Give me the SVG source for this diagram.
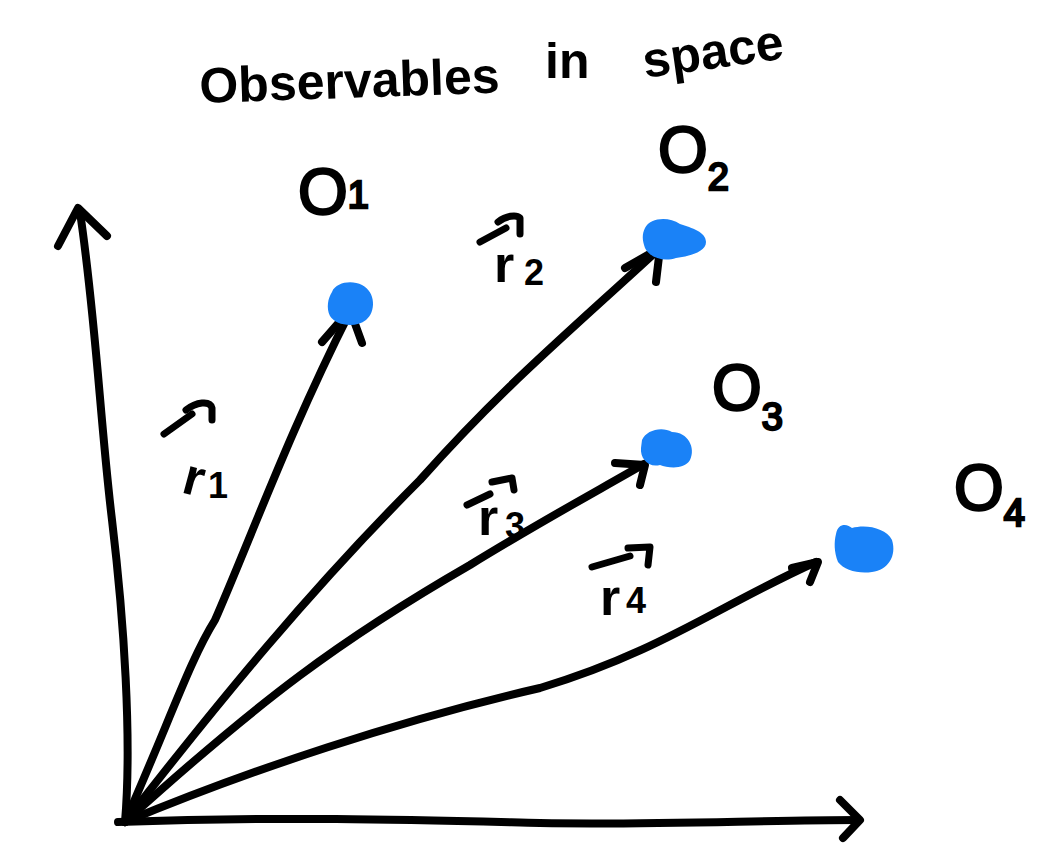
<svg xmlns="http://www.w3.org/2000/svg" width="1051" height="845" viewBox="0 0 1051 845">
<style>
.ink{fill:none;stroke:#000;stroke-width:8;stroke-linecap:round;stroke-linejoin:round}
.thin{fill:none;stroke:#000;stroke-width:7;stroke-linecap:round;stroke-linejoin:round}
.dot{fill:#1a82f7}
.lbl{font-family:"Liberation Sans",Arial,sans-serif;fill:#000;stroke:#000;stroke-width:2.5}
.title{font-family:"Liberation Sans",Arial,sans-serif;font-size:50px;font-weight:bold;fill:#000}
.big{font-size:64px}
.sub{font-size:38px}
.r{font-family:"Liberation Sans",Arial,sans-serif;font-size:52px;font-weight:bold;fill:#000}
.rs{font-family:"Liberation Sans",Arial,sans-serif;font-size:36px;font-weight:bold;fill:#000}
</style>
<rect width="1051" height="845" fill="#fff"/>
<g id="title">
<text class="title" x="200" y="103" transform="rotate(-2 200 103)">Observables</text>
<text class="title" x="545" y="78">in</text>
<text class="title" x="645" y="78" transform="rotate(-8 645 78)">space</text>
</g>
<g id="axes">
<path class="ink" d="M125,822 C132,740 124,620 112,520 C100,420 96,320 80,212"/>
<path class="ink" d="M58,246 L78,208 L107,236"/>
<path class="ink" d="M118,822 C300,816 420,820 540,823 C660,825 760,820 858,820"/>
<path class="ink" d="M840,800 L860,820 L843,838"/>
</g>
<g id="connectors">
<path class="ink" d="M125,822 C170,720 190,660 215,620 C250,540 290,430 350,312"/>
<path class="ink" d="M322,342 L350,310 L362,343"/>
<path class="ink" d="M125,822 C220,700 310,590 420,480 C500,390 560,340 658,250"/>
<path class="ink" d="M625,268 L660,248 L656,282"/>
<path class="ink" d="M125,822 C260,700 340,640 470,565 C540,522 590,495 644,464"/>
<path class="ink" d="M615,463 L645,465 L640,485"/>
<path class="ink" d="M125,822 C250,770 400,720 540,688 C660,652 720,605 816,562"/>
<path class="ink" d="M792,568 L818,562 L810,582"/>
</g>
<g id="vector-labels">
<g id="r1">
<path class="thin" d="M164,434 L192,414"/>
<path class="thin" d="M186,410 C196,402 210,400 212,408 L212,420"/>
<text class="r" x="180" y="492" transform="rotate(15 180 492)">r</text>
<text class="rs" x="208" y="498">1</text>
</g>
<g id="r2">
<path class="thin" d="M480,242 L506,228"/>
<path class="thin" d="M498,222 C506,216 516,214 520,218 L520,234"/>
<text class="r" x="494" y="282">r</text>
<text class="rs" x="524" y="285">2</text>
</g>
<g id="r3">
<path class="thin" d="M467,505 L490,494"/>
<path class="thin" d="M492,482 L512,478 L514,490"/>
<text class="r" x="478" y="535">r</text>
<text class="rs" x="505" y="538">3</text>
</g>
<g id="r4">
<path class="thin" d="M592,567 L630,556"/>
<path class="thin" d="M628,548 L650,547 L648,565"/>
<text class="r" x="600" y="615">r</text>
<text class="rs" x="626" y="613">4</text>
</g>
</g>
<g id="O1">
<path class="dot" d="M332,292 C336,282 352,280 362,285 C376,292 376,312 366,320 C356,328 336,326 330,316 C326,308 328,298 332,292Z"/>
<text class="lbl big" x="298" y="214">O<tspan class="sub" dy="-6">1</tspan></text>
</g>
<g id="O2">
<path class="dot" d="M645,228 C650,218 668,216 680,224 C692,228 706,232 706,242 C706,252 690,256 676,258 C664,262 650,258 645,248 C642,240 642,234 645,228Z"/>
<text class="lbl big" x="658" y="172">O<tspan class="sub" dy="18">2</tspan></text>
</g>
<g id="O3">
<path class="dot" d="M642,440 C646,430 662,426 672,432 C688,432 696,448 690,460 C684,470 668,468 660,465 C648,468 640,458 641,448Z"/>
<text class="lbl big" x="712" y="410">O<tspan class="sub" dy="20">3</tspan></text>
</g>
<g id="O4">
<path class="dot" d="M836,534 C838,522 848,524 852,528 C866,524 886,528 892,540 C897,556 888,570 872,572 C858,574 844,570 838,562 C834,552 834,542 836,534Z"/>
<text class="lbl big" x="954" y="510">O<tspan class="sub" dy="16">4</tspan></text>
</g>
</svg>
